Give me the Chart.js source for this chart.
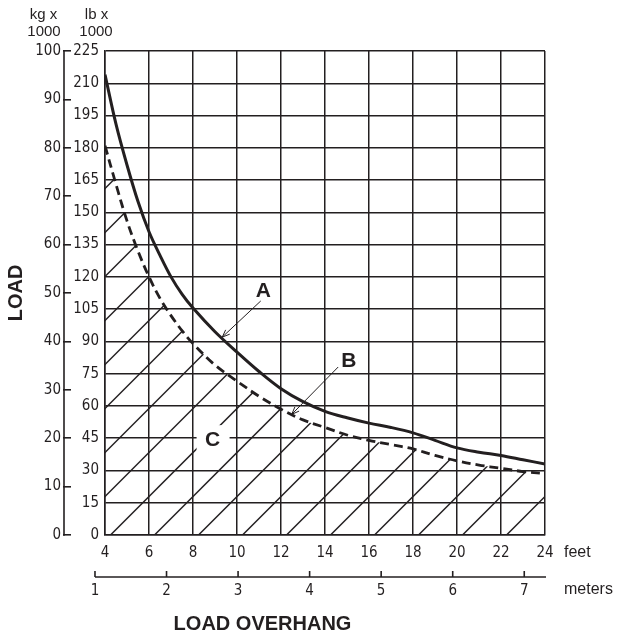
<!DOCTYPE html>
<html><head><meta charset="utf-8">
<script src="https://cdn.jsdelivr.net/npm/chart.js@4.4.1/dist/chart.umd.min.js"></script>
<style>html,body{margin:0;padding:0;background:#fff}#wrap{width:617px;height:635px;position:relative}canvas{display:block}</style>
</head><body><div id="wrap"><canvas id="c" width="617" height="635"></canvas></div>
<script>
// ---- data ----
const feet  = [4, 4.5, 5, 5.5, 6, 6.5, 7, 7.5, 8, 9, 10, 11, 12, 13, 14, 15, 16, 17, 18, 19, 20, 21, 22, 23, 24];
const loadA = [214, 191, 172, 155, 141, 130, 120, 112, 105.5, 94.5, 85, 76, 68, 62, 57.5, 54.5, 52, 50, 47.5, 44, 40.5, 38.5, 37, 35, 33];
const loadB = [181, 163, 146, 132, 120, 110, 102, 95, 89, 79, 71.5, 64.5, 58.5, 53.5, 50, 46.5, 44, 42, 40, 37, 34.5, 32.5, 31, 29.5, 28.5];
const feetTicks   = [4, 6, 8, 10, 12, 14, 16, 18, 20, 22, 24];
const lbTicks     = [0, 15, 30, 45, 60, 75, 90, 105, 120, 135, 150, 165, 180, 195, 210, 225];
const kgTicks     = [0, 10, 20, 30, 40, 50, 60, 70, 80, 90, 100];
const meterTicks  = [1, 2, 3, 4, 5, 6, 7];
const meterRange  = [1.14, 7.29];          // meters scale as printed under 4..24 ft
const hatchStart = 4.25, hatchStep = 2;    // hatch lines meet the 0 line every 2 ft
const notes = [
  {text: 'A', at: [11.2, 110.6], from: [11.08, 108.8], to: [9.33, 92]},
  {text: 'B', at: [15.08, 78.2], from: [14.6, 78.1], to: [12.49, 56.1]},
  {text: 'C', at: [8.89, 41.3], box: true}
];

const INK = '#231f20';
const NARROW = "'Liberation Sans Narrow','Arial Narrow','DejaVu Sans Condensed',sans-serif";
const SANS = "'Liberation Sans',Arial,Helvetica,sans-serif";

function pts(ys) { return feet.map((f, i) => ({x: f, y: ys[i]})); }

const decor = {
  id: 'decor',
  beforeDatasetsDraw(chart) {
    const {ctx, chartArea: ca} = chart;
    const xs = chart.scales.x, ys = chart.scales.y;
    const el = chart.getDatasetMeta(1).data;
    const y0 = ys.getPixelForValue(0);
    ctx.save();
    ctx.beginPath();
    ctx.rect(ca.left, ca.top, ca.right - ca.left, ca.bottom - ca.top);
    ctx.clip();
    ctx.beginPath();
    ctx.moveTo(el[0].x, y0);
    ctx.lineTo(el[0].x, el[0].y);
    for (let i = 1; i < el.length; i++) {
      const p = el[i - 1], q = el[i];
      if (p.cp2x !== undefined && q.cp1x !== undefined) ctx.bezierCurveTo(p.cp2x, p.cp2y, q.cp1x, q.cp1y, q.x, q.y);
      else ctx.lineTo(q.x, q.y);
    }
    ctx.lineTo(el[el.length - 1].x, y0);
    ctx.closePath();
    ctx.clip();
    ctx.strokeStyle = INK; ctx.lineWidth = 1.5;
    for (let k = -14; k <= 12; k++) {
      const x0 = xs.getPixelForValue(hatchStart + hatchStep * k);
      ctx.beginPath(); ctx.moveTo(x0, y0); ctx.lineTo(x0 + 800, y0 - 800); ctx.stroke();
    }
    ctx.restore();
  },
  afterDatasetsDraw(chart) {
    const {ctx} = chart;
    const xs = chart.scales.x, ys = chart.scales.y;
    const P = (a) => [xs.getPixelForValue(a[0]), ys.getPixelForValue(a[1])];
    ctx.save();
    ctx.font = `bold 21px ${SANS}`;
    ctx.textAlign = 'center'; ctx.textBaseline = 'alphabetic';
    notes.forEach(n => {
      const [tx, ty] = P(n.at);
      if (n.box) { ctx.fillStyle = '#fff'; ctx.fillRect(tx - 16, ty - 21, 33, 28); }
      ctx.fillStyle = INK; ctx.fillText(n.text, tx, ty);
      if (n.from) {
        const [x1, y1] = P(n.from), [x2, y2] = P(n.to);
        ctx.strokeStyle = INK; ctx.lineWidth = 1;
        ctx.beginPath(); ctx.moveTo(x1, y1); ctx.lineTo(x2, y2); ctx.stroke();
        const a = Math.atan2(y2 - y1, x2 - x1), L = 8, w = 0.38;
        ctx.beginPath();
        ctx.moveTo(x2 - L * Math.cos(a - w), y2 - L * Math.sin(a - w));
        ctx.lineTo(x2, y2);
        ctx.lineTo(x2 - L * Math.cos(a + w), y2 - L * Math.sin(a + w));
        ctx.stroke();
      }
    });
    ctx.restore();
  },
  afterDraw(chart) {
    const {ctx, chartArea: ca} = chart;
    const kg = chart.scales.yKg, ms = chart.scales.xm, ys = chart.scales.y;
    ctx.save();
    ctx.strokeStyle = INK; ctx.lineWidth = 1.6;
    // kg axis spine
    const kx = kg.right - 7;
    ctx.beginPath(); ctx.moveTo(kx, kg.getPixelForValue(kgTicks[kgTicks.length - 1]) - 0.8); ctx.lineTo(kx, kg.getPixelForValue(0) + 0.8); ctx.stroke();
    // meters axis line with upward ticks
    const ml = ms.top + 6;
    ctx.beginPath(); ctx.moveTo(ms.getPixelForValue(meterTicks[0]), ml); ctx.lineTo(ms.right + 1, ml); ctx.stroke();
    meterTicks.forEach(v => { const px = ms.getPixelForValue(v); ctx.beginPath(); ctx.moveTo(px, ml); ctx.lineTo(px, ml - 6); ctx.stroke(); });
    // headers
    ctx.fillStyle = INK; ctx.textAlign = 'center'; ctx.textBaseline = 'alphabetic';
    ctx.font = `15px ${SANS}`;
    const kgx = kg.right - 27.5, lbx = ys.right - 8.5;
    ctx.fillText('kg x', kgx, 18.5); ctx.fillText('1000', kgx + 0.5, 36);
    ctx.fillText('lb x', lbx, 18.5); ctx.fillText('1000', lbx - 0.5, 36);
    // unit words
    ctx.font = `16px ${SANS}`; ctx.textAlign = 'left';
    ctx.fillText('feet', ca.right + 19, 556.5);
    ctx.fillText('meters', ca.right + 19, 594);
    // axis title
    ctx.font = `bold 20px ${SANS}`; ctx.textAlign = 'center';
    ctx.fillText('LOAD OVERHANG', 262.5, 630);
    ctx.restore();
  }
};

new Chart(document.getElementById('c'), {
  type: 'line',
  data: {
    datasets: [
      {label: 'A', data: pts(loadA), borderColor: INK, borderWidth: 3, pointRadius: 0, tension: 0.35, fill: false, xAxisID: 'x', yAxisID: 'y'},
      {label: 'B', data: pts(loadB), borderColor: INK, borderWidth: 2.8, borderDash: [9, 5], pointRadius: 0, tension: 0.35, fill: false, xAxisID: 'x', yAxisID: 'y'}
    ]
  },
  options: {
    responsive: false, animation: false, devicePixelRatio: 1,
    layout: {padding: {left: 0, top: 51, right: 72, bottom: 0}},
    plugins: {legend: {display: false}, tooltip: {enabled: false}},
    scales: {
      x: {
        type: 'linear', position: 'bottom', min: 4, max: 24, weight: 0,
        afterBuildTicks: s => { s.ticks = feetTicks.map(v => ({value: v})); },
        afterFit: s => { s.height = 36; },
        grid: {color: INK, lineWidth: 1.5, drawTicks: false},
        border: {display: true, color: INK, width: 1.5},
        ticks: {autoSkip: false, maxRotation: 0, padding: 9, color: INK, font: {family: NARROW, size: 15}, callback: v => String(v)}
      },
      xm: {
        type: 'linear', position: 'bottom', min: meterRange[0], max: meterRange[1], weight: 1,
        afterBuildTicks: s => { s.ticks = meterTicks.map(v => ({value: v})); },
        afterFit: s => { s.height = 64; },
        grid: {display: false, drawOnChartArea: false, drawTicks: true, tickLength: 6},
        border: {display: false},
        ticks: {autoSkip: false, maxRotation: 0, padding: 5, color: INK, font: {family: NARROW, size: 15}, callback: v => String(v)}
      },
      y: {
        type: 'linear', position: 'left', min: 0, max: 225, weight: 0,
        afterBuildTicks: s => { s.ticks = lbTicks.map(v => ({value: v})); },
        afterFit: s => { s.width = 34; },
        grid: {color: INK, lineWidth: 1.5, drawTicks: false},
        border: {display: true, color: INK, width: 1.5},
        ticks: {padding: 6, color: INK, font: {family: NARROW, size: 15}, callback: v => String(v)}
      },
      yKg: {
        type: 'linear', position: 'left', min: 0, max: 100, weight: 1,
        afterBuildTicks: s => { s.ticks = kgTicks.map(v => ({value: v})); },
        afterFit: s => { s.width = 71; },
        grid: {display: true, drawOnChartArea: false, drawTicks: true, tickLength: 8, color: INK, lineWidth: 1.6},
        border: {display: false},
        ticks: {padding: 2, color: INK, font: {family: NARROW, size: 15}, callback: v => String(v)},
        title: {display: true, text: 'LOAD', color: INK, font: {family: SANS, size: 20, weight: 'bold'}, padding: {top: 4, bottom: 0}}
      }
    }
  },
  plugins: [decor]
});
</script>
</body></html>
